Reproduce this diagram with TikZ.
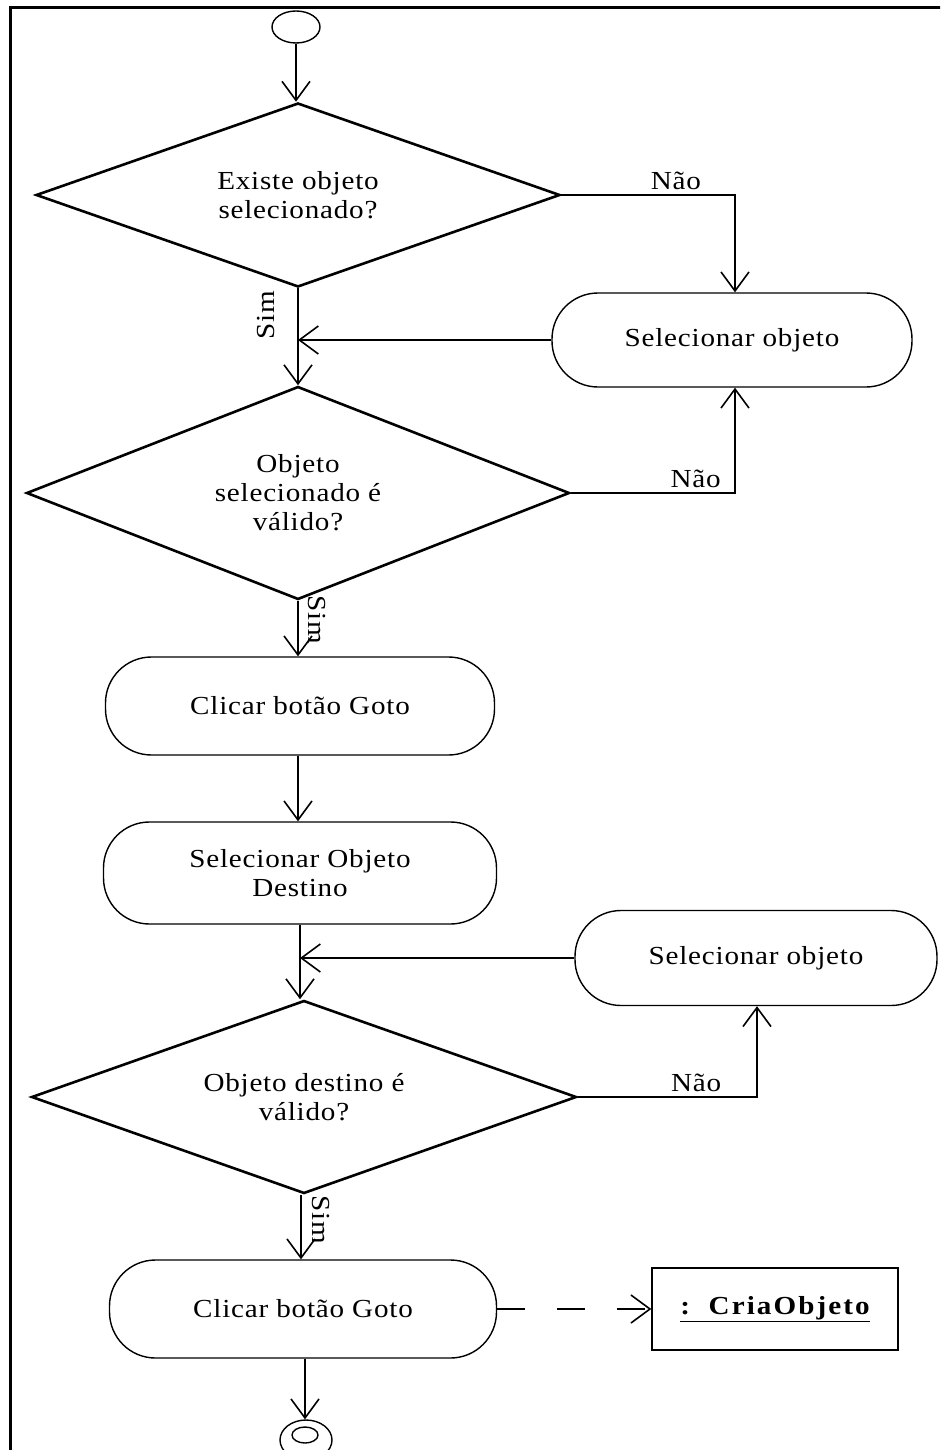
\documentclass[tikz,border=0pt]{standalone}
\usepackage{fontspec}
\setmainfont{Liberation Serif}[FakeStretch=1.12, LetterSpace=3]
\usetikzlibrary{shapes.geometric,arrows.meta}
\begin{document}
\begin{tikzpicture}[x=1pt,y=-1pt,
  every node/.style={font=\fontsize{26}{29}\selectfont, align=center, inner sep=0pt},
  dec/.style={draw, diamond, line width=2.6pt, minimum width=#1},
  act/.style={draw, rectangle, rounded corners=46pt, line width=1.4pt, minimum height=96pt},
  flow/.style={line width=1.6pt, -{Straight Barb[length=19pt,width=28pt,line width=1.6pt]}},
  lbl/.style={font=\fontsize{26}{29}\selectfont}]
\useasboundingbox (0,0) rectangle (940,1450);
\begin{scope}
\clip (0,0) rectangle (940,1450);
% frame
\draw[line width=3pt] (10,1452) -- (10,8) -- (942,8);
% start
\node[draw, ellipse, line width=1.4pt, minimum width=48pt, minimum height=32pt] (start) at (296,27) {};
% decisions (shape and text as separate nodes so the text does not enlarge the shape)
\node[dec=524pt, minimum height=184pt] (d1) at (298,195) {};
\node (d1t) at (d1.center) {Existe objeto\\selecionado?};
\node[dec=543pt, minimum height=213pt] (d2) at (298,493) {};
\node (d2t) at (d2.center) {Objeto\\selecionado é\\válido?};
\node[dec=545pt, minimum height=193pt] (d3) at (304,1097) {};
\node (d3t) at (d3.center) {Objeto destino é\\válido?};
% activities
\node[act, minimum width=360pt, minimum height=94pt] (so1) at (732,340) {Selecionar objeto};
\node[act, minimum width=389pt, minimum height=98pt] (cb1) at (300,706) {Clicar botão Goto};
\node[act, minimum width=393pt, minimum height=102pt] (sd) at (300,873) {Selecionar Objeto\\Destino};
\node[act, minimum width=362pt, minimum height=95pt] (so2) at (756,958) {Selecionar objeto};
\node[act, minimum width=387pt, minimum height=98pt] (cb2) at (303,1309) {Clicar botão Goto};
\node[draw, line width=1.4pt, minimum width=246pt, minimum height=82pt, font=\fontsize{26}{29}\selectfont\bfseries\addfontfeature{LetterSpace=8}] (cria) at (775,1309) {\underline{:\ \ CriaObjeto}};
% end
\node[draw, ellipse, line width=1.4pt, minimum width=52pt, minimum height=40pt] (end) at (306,1440) {};
\node[draw, ellipse, line width=1.4pt, minimum width=26pt, minimum height=16pt] (endin) at (305,1435) {};
% junction coordinates
\coordinate (j1) at (298,340);
\coordinate (j2) at (300,958);
% connectors
\draw[flow] (start.south) -- (start.south |- d1.north);
\draw[flow] (d1.east) -| node[pos=0.33, above=4pt, lbl] {Não} (so1.north -| 735,0);
\draw[flow] (so1.west) -- (j1);
\draw[flow] (d1.south) -- (d2.north);
\node[lbl, rotate=90] (sim1) at (266,315) {Sim};
\draw[flow] (d2.east) -| node[pos=0.38, above=4pt, lbl] {Não} (so1.south -| 735,0);
\draw[flow] (d2.south) -- (d2.south |- cb1.north);
\node[lbl, rotate=-90] (sim2) at (317,620) {Sim};
\draw[flow] (cb1.south -| d2.south) -- (d2.south |- sd.north);
\draw[flow] (sd.south) -- (sd.south |- d3.north);
\draw[flow] (so2.west) -- (j2);
\draw[flow] (d3.east) -| node[pos=0.33, above=4pt, lbl] {Não} (so2.south -| 757,0);
\draw[flow] (d3.south -| 301,0) -- (cb2.north -| 301,0);
\node[lbl, rotate=-90] (sim3) at (321,1220) {Sim};
\draw[flow, dash pattern=on 28pt off 32pt] (cb2.east) -- (cria.west);
\draw[flow] (cb2.south -| 305,0) -- (end.north -| 305,0);
\end{scope}
\end{tikzpicture}
\end{document}
